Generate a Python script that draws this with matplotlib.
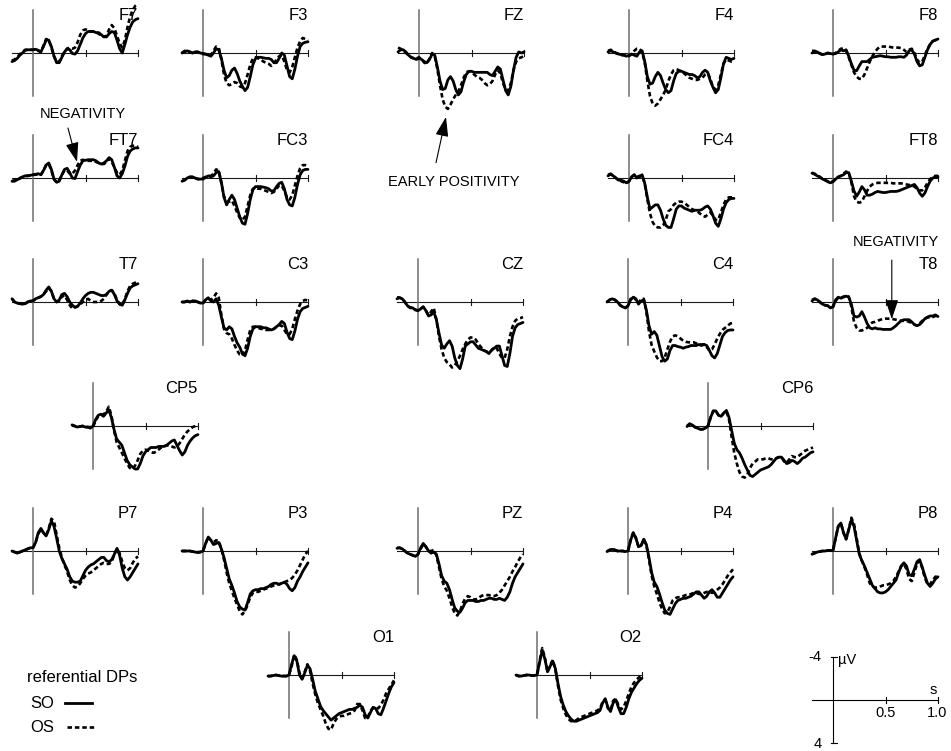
import numpy as np
import matplotlib
matplotlib.use("Agg")
import matplotlib.pyplot as plt
from matplotlib.lines import Line2D

plt.rcParams['font.family'] = ['Liberation Sans', 'DejaVu Sans']

# time axis (s), 25 ms steps from -0.2 to 1.0
t = np.linspace(-0.2, 1.0, 49)

# grand-average potentials in microvolts (negative plotted upwards)
F7_so = [0.8, 0.7, 0.5, 0.2, 0.0, -0.25, -0.3, -0.3,
         -0.3, -0.35, -0.25, -0.1, -0.6, -1.2, -1.2, -0.6,
         0.3, 0.9, 0.9, 0.4, -0.1, -0.4, -0.3, 0.05,
         0.1, -0.2, -0.8, -1.4, -1.8, -2.0, -2.0, -2.0,
         -1.9, -1.9, -1.7, -1.5, -1.5, -1.8, -2.0, -1.9,
         -1.2, -0.4, 0.0, -0.8, -1.7, -2.4, -2.9, -3.1, -3.2]
F7_os = [0.7, 0.6, 0.4, 0.1, -0.1, -0.3, -0.3, -0.3,
         -0.3, -0.3, -0.2, -0.1, -0.7, -1.3, -1.2, -0.5,
         0.3, 0.8, 0.8, 0.3, -0.1, -0.4, -0.5, -0.4,
         -0.5, -1.0, -1.7, -2.1, -2.2, -2.1, -2.0, -2.0,
         -1.9, -1.8, -1.6, -1.5, -1.6, -2.2, -2.6, -2.3,
         -1.6, -0.9, -0.5, -1.2, -2.4, -3.4, -4.0, -4.4, -4.6]

F3_so = [0.0, -0.1, -0.2, -0.1, 0.0, -0.1, -0.1, 0.0,
         0.05, 0.1, 0.2, 0.3, 0.0, -0.4, -0.3, 0.5,
         1.6, 2.3, 2.1, 1.6, 1.4, 1.9, 2.6, 3.1,
         3.5, 3.2, 2.2, 1.1, 0.5, 0.4, 0.4, 0.45,
         0.5, 0.5, 0.6, 0.9, 0.9, 0.5, 0.0, 0.2,
         1.2, 2.2, 2.4, 1.5, 0.3, -0.6, -0.9, -1.0, -1.05]
F3_os = [0.0, -0.2, -0.2, -0.1, 0.0, -0.1, -0.1, 0.0,
         0.1, 0.1, 0.2, 0.2, -0.2, -0.6, -0.5, 0.6,
         2.0, 2.8, 3.0, 2.9, 2.7, 2.8, 3.1, 3.2,
         2.8, 2.0, 1.1, 0.5, 0.4, 0.5, 0.6, 0.8,
         0.9, 1.0, 1.2, 1.0, 0.6, 0.3, 0.2, 0.8,
         1.6, 1.8, 1.3, 0.4, -0.5, -1.1, -1.4, -1.3, -1.2]

FZ_so = [-0.1, -0.3, -0.3, -0.1, 0.2, 0.4, 0.5, 0.6,
         0.5, 0.6, 0.8, 0.9, 0.6, 0.1, 0.2, 1.3,
         2.6, 3.4, 3.3, 2.5, 2.2, 2.6, 3.4, 3.9,
         3.6, 2.7, 2.0, 1.7, 1.7, 1.8, 1.8, 1.8,
         1.8, 1.8, 1.8, 2.0, 2.1, 1.7, 1.3, 1.5,
         2.5, 3.5, 3.9, 3.1, 1.6, 0.4, -0.1, 0.0, -0.1]
FZ_os = [-0.5, -0.4, -0.2, 0.0, 0.2, 0.4, 0.5, 0.5,
         0.4, 0.6, 0.9, 1.0, 0.5, 0.0, 0.3, 1.5,
         3.0, 4.3, 5.0, 5.2, 4.8, 4.3, 3.9, 3.6,
         3.0, 2.3, 1.8, 1.7, 1.8, 2.0, 2.2, 2.3,
         2.5, 2.8, 3.0, 2.9, 2.6, 2.0, 1.6, 1.9,
         2.8, 3.4, 3.5, 2.8, 1.6, 0.8, 0.5, 0.4, 0.3]

F4_so = [-0.1, -0.2, -0.1, 0.0, 0.1, 0.15, 0.2, 0.3,
         0.2, 0.1, 0.2, 0.3, -0.1, -0.2, 0.8, 2.2,
         2.9, 2.8, 2.2, 1.8, 2.1, 2.8, 3.4, 3.7,
         3.5, 2.6, 1.9, 1.7, 1.7, 1.8, 1.9, 2.0,
         2.0, 2.1, 2.3, 2.2, 1.8, 1.6, 1.8, 2.6,
         3.2, 3.7, 3.4, 2.3, 1.0, 0.4, 0.5, 0.6, 0.5]
F4_os = [-0.2, -0.3, -0.2, 0.0, 0.1, 0.2, 0.2, 0.3,
         0.3, 0.1, -0.2, -0.4, -0.4, -0.1, 0.9, 2.6,
         4.0, 4.7, 4.9, 4.7, 4.3, 3.9, 3.4, 2.6,
         2.0, 1.6, 1.5, 1.6, 1.7, 1.9, 2.1, 2.3,
         2.4, 2.5, 2.5, 2.4, 2.3, 2.0, 1.9, 2.4,
         3.2, 3.4, 3.0, 2.0, 1.0, 0.6, 0.7, 0.8, 0.8]

F8_so = [0.0, -0.1, -0.1, 0.05, 0.15, 0.1, 0.0, 0.05,
         0.1, 0.05, -0.1, -0.3, -0.2, -0.3, 0.3, 1.0,
         1.6, 1.65, 1.2, 0.8, 0.8, 0.8, 0.6, 0.4,
         0.35, 0.3, 0.25, 0.3, 0.35, 0.35, 0.4, 0.4,
         0.4, 0.35, 0.35, 0.4, 0.2, -0.2, -0.3, 0.1,
         0.8, 1.2, 1.1, 0.4, -0.3, -0.8, -1.1, -1.2, -1.3]
F8_os = [-0.2, -0.2, -0.1, 0.05, 0.15, 0.1, 0.0, 0.1,
         0.1, 0.0, -0.2, -0.4, -0.4, -0.2, 0.4, 1.1,
         1.8, 2.2, 2.4, 2.4, 2.0, 1.4, 0.8, 0.3,
         -0.1, -0.4, -0.6, -0.6, -0.6, -0.6, -0.55, -0.5,
         -0.5, -0.5, -0.45, -0.3, -0.1, -0.3, -0.4, 0.0,
         0.6, 0.9, 0.8, 0.2, -0.4, -0.8, -1.1, -1.2, -1.3]

FT7_so = [0.3, 0.3, 0.15, 0.05, -0.1, -0.2, -0.2, -0.25,
          -0.3, -0.35, -0.4, -0.3, -0.7, -1.2, -1.4, -0.8,
          0.1, 0.4, 0.3, -0.3, -0.8, -0.9, -0.5, 0.0,
          0.05, -0.6, -1.2, -1.6, -1.65, -1.7, -1.7, -1.7,
          -1.6, -1.4, -1.3, -1.4, -1.6, -1.9, -1.7, -1.0,
          -0.2, 0.0, -0.4, -1.1, -2.0, -2.5, -2.7, -2.8, -2.8]
FT7_os = [0.3, 0.2, 0.1, 0.0, -0.1, -0.2, -0.2, -0.25,
          -0.3, -0.3, -0.35, -0.3, -0.7, -1.2, -1.3, -0.7,
          0.1, 0.4, 0.2, -0.3, -0.7, -0.7, -0.4, -0.4,
          -0.7, -1.2, -1.6, -1.7, -1.6, -1.6, -1.6, -1.6,
          -1.5, -1.4, -1.3, -1.3, -1.5, -1.8, -1.5, -1.0,
          -0.5, -0.3, -0.7, -1.6, -2.5, -2.9, -3.0, -3.0, -2.9]

FC3_so = [0.3, 0.2, 0.0, -0.1, -0.1, 0.0, 0.1, 0.1,
          0.1, -0.05, -0.2, -0.1, -0.2, -0.5, -0.6, 0.4,
          1.8, 2.5, 2.0, 1.6, 2.0, 2.8, 3.6, 4.2,
          4.3, 3.3, 2.0, 1.1, 0.8, 0.8, 0.8, 0.85,
          0.9, 1.0, 1.2, 1.2, 0.8, 0.5, 0.4, 1.0,
          2.0, 2.5, 2.6, 1.8, 0.6, -0.3, -0.7, -0.8, -0.8]
FC3_os = [0.3, 0.2, 0.0, -0.1, -0.1, 0.0, 0.1, 0.1,
          0.0, -0.1, -0.2, -0.2, -0.4, -0.8, -0.7, 0.5,
          1.7, 2.2, 2.2, 2.1, 2.6, 3.2, 3.7, 3.9,
          3.6, 2.6, 1.6, 1.0, 0.9, 1.0, 1.0, 1.1,
          1.2, 1.3, 1.4, 1.3, 1.0, 0.7, 0.7, 1.2,
          1.8, 2.0, 1.6, 0.7, -0.2, -0.9, -1.2, -1.2, -1.1]

FC4_so = [-0.2, -0.35, -0.2, 0.0, 0.2, 0.2, 0.3, 0.45,
          0.3, -0.1, -0.3, 0.0, -0.1, -0.3, 0.5, 1.8,
          2.9, 2.7, 2.5, 2.5, 3.0, 3.8, 4.4, 4.6,
          4.6, 3.8, 2.9, 2.6, 2.6, 2.8, 2.9, 3.0,
          3.1, 3.0, 3.0, 3.0, 2.9, 2.7, 2.6, 2.9,
          3.5, 4.2, 4.5, 3.8, 2.9, 2.3, 2.0, 1.9, 1.9]
FC4_os = [-0.3, -0.4, -0.2, 0.0, 0.2, 0.3, 0.4, 0.5,
          0.3, -0.1, -0.3, -0.1, -0.2, -0.2, 0.5, 2.0,
          3.3, 4.1, 4.5, 4.6, 4.6, 4.4, 3.9, 3.1,
          2.9, 2.5, 2.3, 2.2, 2.2, 2.3, 2.5, 2.7,
          2.9, 3.0, 3.1, 3.3, 3.5, 3.6, 3.4, 3.2,
          3.5, 3.9, 3.9, 3.2, 2.5, 2.0, 1.8, 1.8, 1.8]

FT8_so = [-0.45, -0.35, -0.2, -0.1, 0.1, 0.2, 0.35, 0.45,
          0.35, 0.1, -0.1, -0.2, -0.3, -0.5, -0.5, 0.3,
          1.2, 1.7, 1.3, 0.8, 1.1, 1.6, 1.6, 1.5,
          1.35, 1.25, 1.3, 1.35, 1.35, 1.3, 1.25, 1.25,
          1.25, 1.2, 1.1, 1.0, 0.9, 0.8, 0.7, 0.6,
          0.9, 1.4, 1.7, 1.4, 0.8, 0.3, 0.0, -0.1, -0.1]
FT8_os = [-0.5, -0.4, -0.2, -0.1, 0.1, 0.2, 0.3, 0.4,
          0.3, 0.1, -0.1, -0.2, -0.4, -0.6, -0.5, 0.4,
          1.7, 2.2, 2.3, 2.2, 1.7, 1.2, 0.8, 0.6,
          0.5, 0.45, 0.45, 0.45, 0.45, 0.45, 0.45, 0.5,
          0.5, 0.5, 0.5, 0.55, 0.6, 0.65, 0.7, 0.8,
          1.0, 1.15, 1.15, 0.9, 0.45, 0.1, -0.1, -0.2, -0.2]

T7_so = [-0.3, 0.0, 0.1, 0.15, 0.2, 0.15, 0.0, -0.1,
         -0.1, -0.3, -0.4, -0.5, -0.7, -1.1, -1.4, -1.0,
         -0.3, 0.0, -0.2, -0.7, -0.8, -0.5, 0.0, 0.3,
         0.5, 0.4, 0.1, -0.3, -0.6, -0.8, -0.9, -0.9,
         -0.8, -0.7, -0.6, -0.6, -0.7, -1.0, -1.1, -0.7,
         -0.1, 0.2, 0.3, -0.2, -0.8, -1.3, -1.5, -1.6, -1.7]
T7_os = [-0.3, 0.0, 0.1, 0.15, 0.2, 0.15, 0.0, -0.1,
         -0.1, -0.3, -0.4, -0.5, -0.7, -1.0, -1.3, -1.0,
         -0.3, 0.0, -0.1, -0.5, -0.6, -0.2, 0.3, 0.6,
         0.5, 0.4, 0.2, 0.0, -0.2, -0.3, -0.1, 0.0,
         0.0, 0.0, -0.1, -0.3, -0.7, -1.0, -1.1, -0.8,
         -0.2, 0.2, 0.3, -0.3, -1.0, -1.5, -1.7, -1.8, -1.9]

C3_so = [0.0, 0.0, -0.1, 0.0, -0.1, -0.1, 0.0, 0.1,
         0.1, -0.2, -0.4, -0.1, 0.0, -0.3, 0.3, 1.4,
         2.4, 2.6, 2.3, 2.5, 3.2, 3.8, 4.2, 4.8,
         5.0, 4.3, 3.2, 2.5, 2.3, 2.3, 2.3, 2.4,
         2.4, 2.5, 2.6, 2.5, 2.3, 2.1, 1.8, 2.0,
         2.8, 3.4, 3.5, 2.7, 1.6, 0.9, 0.6, 0.5, 0.4]
C3_os = [0.0, 0.0, -0.1, 0.0, -0.1, -0.1, 0.0, 0.1,
         0.1, -0.2, -0.3, -0.2, -0.4, -0.8, -0.4, 1.2,
         2.5, 2.9, 3.0, 3.4, 4.0, 4.5, 4.9, 5.0,
         4.5, 3.5, 2.6, 2.3, 2.3, 2.4, 2.5, 2.5,
         2.6, 2.6, 2.6, 2.5, 2.3, 2.2, 2.2, 2.6,
         3.0, 3.0, 2.5, 1.6, 0.8, 0.2, -0.1, -0.2, -0.1]

CZ_so = [-0.3, -0.4, -0.3, 0.0, 0.35, 0.55, 0.55, 0.75,
         0.8, 0.65, 0.45, 0.8, 1.3, 1.2, 0.9, 1.65,
         2.9, 4.0, 4.3, 3.9, 3.6, 4.1, 5.2, 5.9,
         6.2, 5.3, 4.1, 3.9, 3.7, 3.7, 4.0, 4.3,
         4.4, 4.5, 4.6, 4.8, 4.5, 4.3, 4.1, 4.1,
         5.0, 5.9, 6.0, 4.8, 3.2, 2.4, 2.1, 2.0, 1.9]
CZ_os = [-0.45, -0.4, -0.3, 0.0, 0.35, 0.5, 0.55, 0.7,
         0.8, 0.6, 0.45, 0.8, 1.2, 0.9, 0.55, 1.65,
         3.2, 4.4, 5.2, 5.6, 5.8, 6.1, 5.9, 5.5,
         5.0, 4.4, 3.9, 3.5, 3.3, 3.3, 3.5, 3.9,
         4.2, 4.5, 4.6, 4.7, 4.5, 4.2, 4.3, 4.8,
         5.2, 5.2, 4.4, 3.2, 2.3, 1.75, 1.55, 1.5, 1.4]

C4_so = [0.0, -0.2, -0.3, -0.2, 0.0, 0.3, 0.45, 0.55,
         0.35, -0.2, -0.45, -0.3, 0.2, -0.1, -0.2, 0.75,
         2.2, 3.0, 2.75, 3.1, 4.1, 5.1, 5.5, 5.3,
         4.5, 4.05, 4.05, 4.15, 4.2, 4.3, 4.2, 4.15,
         4.05, 4.05, 4.05, 3.95, 4.05, 3.95, 4.05, 4.5,
         5.0, 5.2, 4.8, 4.0, 3.2, 2.85, 2.65, 2.6, 2.6]
C4_os = [0.0, -0.2, -0.3, -0.2, 0.0, 0.3, 0.45, 0.55,
         0.35, -0.3, -0.5, -0.2, 0.1, -0.3, -0.3, 0.9,
         2.75, 4.0, 4.6, 5.15, 5.5, 5.5, 5.15, 4.4,
         3.7, 3.2, 3.1, 3.2, 3.4, 3.6, 3.7, 3.75,
         3.75, 3.75, 3.85, 3.95, 3.95, 3.95, 4.2, 4.5,
         4.4, 3.95, 3.4, 2.95, 2.6, 2.4, 2.2, 2.0, 1.95]

T8_so = [-0.1, -0.3, -0.2, 0.0, 0.2, 0.3, 0.35, 0.55,
         0.45, -0.2, -0.45, -0.35, -0.45, -0.55, -0.45, 0.2,
         1.3, 1.4, 1.3, 0.9, 1.4, 2.0, 2.4, 2.5,
         2.4, 2.5, 2.5, 2.55, 2.55, 2.55, 2.55, 2.4,
         2.2, 1.95, 1.75, 1.65, 1.65, 1.65, 1.85, 2.1,
         2.2, 2.1, 1.85, 1.55, 1.4, 1.3, 1.3, 1.2, 1.35]
T8_os = [-0.2, -0.3, -0.2, 0.0, 0.2, 0.3, 0.35, 0.5,
         0.45, -0.1, -0.4, -0.4, -0.5, -0.6, -0.5, 0.45,
         1.85, 2.4, 2.65, 2.65, 2.55, 2.4, 2.1, 1.9,
         1.85, 1.75, 1.65, 1.6, 1.55, 1.55, 1.55, 1.6,
         1.65, 1.7, 1.75, 1.75, 1.75, 1.85, 1.95, 2.1,
         2.2, 2.0, 1.75, 1.55, 1.45, 1.4, 1.4, 1.3, 1.3]

CP5_so = [-0.1, 0.0, 0.1, 0.05, 0.0, 0.1, 0.1, 0.2,
          0.0, -0.6, -1.0, -1.1, -0.9, -1.2, -1.5, -0.8,
          0.3, 1.2, 1.5, 1.8, 2.5, 3.2, 3.6, 3.8,
          4.0, 4.0, 3.5, 2.8, 2.4, 2.2, 2.0, 2.0,
          2.0, 1.9, 1.9, 1.9, 1.8, 1.6, 1.4, 1.3,
          1.8, 2.3, 2.7, 2.4, 1.8, 1.4, 1.1, 0.9, 0.8]
CP5_os = [-0.1, 0.0, 0.1, 0.05, 0.0, 0.1, 0.1, 0.1,
          0.1, -0.5, -0.9, -1.0, -1.1, -1.3, -1.8, -1.0,
          0.4, 1.5, 2.0, 2.5, 3.0, 3.5, 3.9, 4.0,
          3.7, 3.2, 2.6, 2.3, 2.2, 2.3, 2.4, 2.5,
          2.4, 2.2, 2.0, 1.9, 1.8, 1.8, 1.9, 2.0,
          1.9, 1.6, 1.2, 0.8, 0.5, 0.3, 0.1, 0.0, -0.1]

CP6_so = [0.05, -0.2, -0.1, 0.1, 0.2, 0.3, 0.3, 0.2,
          0.0, -0.8, -1.4, -1.4, -1.0, -0.9, -1.2, -1.45,
          -0.8, 0.4, 1.6, 2.2, 2.5, 3.0, 3.6, 4.1,
          4.6, 4.7, 4.5, 4.3, 4.1, 4.0, 3.9, 3.8,
          3.6, 3.3, 3.0, 2.9, 2.9, 3.2, 3.5, 3.4,
          3.2, 3.3, 3.5, 3.3, 3.0, 2.9, 2.7, 2.5, 2.4]
CP6_os = [0.0, -0.2, -0.1, 0.1, 0.2, 0.3, 0.3, 0.2,
          0.0, -0.8, -1.4, -1.4, -1.0, -0.9, -1.2, -1.4,
          -0.6, 1.0, 2.5, 3.5, 4.3, 4.7, 4.8, 4.5,
          3.9, 3.5, 3.3, 3.1, 3.1, 3.1, 3.0, 3.0,
          3.1, 3.1, 3.0, 2.9, 2.9, 3.3, 3.4, 3.1,
          2.8, 2.9, 2.9, 2.7, 2.5, 2.3, 2.2, 2.1, 2.0]

P7_so = [0.0, 0.1, 0.2, 0.1, 0.0, -0.1, -0.2, -0.3,
         -0.3, -0.8, -1.7, -2.1, -1.7, -1.4, -2.0, -2.8,
         -2.3, -1.2, 0.0, 0.7, 1.2, 1.7, 2.4, 2.8,
         2.9, 2.9, 2.8, 2.3, 1.8, 1.5, 1.3, 1.2,
         1.0, 0.8, 0.6, 0.6, 0.9, 1.0, 0.8, 0.3,
         -0.25, 0.4, 1.6, 2.4, 2.7, 2.4, 2.0, 1.6, 1.2]
P7_os = [0.0, 0.1, 0.2, 0.1, 0.0, -0.1, -0.2, -0.3,
         -0.3, -0.8, -1.6, -2.0, -1.7, -1.4, -2.1, -3.0,
         -2.8, -1.5, -0.3, 0.6, 1.3, 1.9, 2.7, 3.2,
         3.4, 3.3, 3.0, 2.6, 2.3, 2.1, 2.0, 1.8,
         1.6, 1.4, 1.2, 1.1, 1.2, 1.2, 1.0, 0.3,
         -0.2, 0.2, 1.0, 1.6, 1.8, 1.6, 1.1, 0.7, 0.5]

P3_so = [0.0, 0.0, 0.0, 0.0, 0.05, 0.1, 0.15, 0.1,
         0.0, -0.7, -1.3, -1.0, -0.6, -0.7, -0.8, -0.2,
         0.6, 1.6, 2.6, 3.2, 3.9, 4.7, 5.2, 5.4,
         5.5, 4.8, 4.0, 3.7, 3.6, 3.6, 3.5, 3.5,
         3.4, 3.3, 3.1, 3.0, 3.0, 3.1, 3.0, 2.9,
         3.1, 3.5, 3.7, 3.4, 2.8, 2.4, 1.9, 1.5, 1.1]
P3_os = [0.0, 0.0, 0.0, 0.0, 0.05, 0.1, 0.1, 0.1,
         0.0, -0.7, -1.3, -1.0, -0.8, -1.0, -0.9, -0.2,
         0.8, 2.0, 3.0, 3.7, 4.4, 5.0, 5.6, 5.9,
         5.6, 5.0, 4.3, 3.9, 3.8, 3.8, 3.7, 3.6,
         3.5, 3.4, 3.3, 3.2, 3.1, 3.1, 3.0, 2.9,
         2.8, 2.7, 2.5, 2.2, 1.8, 1.3, 0.8, 0.3, 0.0]

PZ_so = [-0.25, -0.3, -0.2, 0.0, 0.2, 0.3, 0.4, 0.5,
         0.3, -0.3, -0.7, -0.4, 0.0, 0.2, 0.1, 0.3,
         1.2, 2.3, 2.8, 3.0, 3.6, 4.5, 5.3, 5.6,
         5.7, 5.3, 4.8, 4.6, 4.6, 4.6, 4.7, 4.7,
         4.6, 4.6, 4.5, 4.4, 4.4, 4.5, 4.5, 4.4,
         4.5, 4.6, 4.3, 3.8, 3.0, 2.4, 2.0, 1.6, 1.2]
PZ_os = [-0.3, -0.3, -0.2, 0.0, 0.2, 0.3, 0.4, 0.5,
         0.3, -0.2, -0.6, -0.4, 0.0, 0.0, -0.1, 0.4,
         1.5, 2.6, 3.3, 3.7, 4.4, 5.2, 5.8, 6.0,
         5.6, 4.9, 4.4, 4.2, 4.3, 4.5, 4.5, 4.4,
         4.2, 4.1, 4.1, 4.1, 4.2, 4.2, 4.1, 3.9,
         3.6, 3.2, 2.8, 2.4, 1.9, 1.5, 1.0, 0.6, 0.3]

P4_so = [0.05, -0.1, -0.15, -0.1, 0.0, 0.0, 0.0, 0.05,
         0.0, -1.0, -1.7, -1.2, -0.4, -0.5, -1.1, -0.6,
         0.6, 2.0, 2.9, 3.3, 4.0, 4.8, 5.5, 5.8,
         5.9, 5.4, 4.9, 4.6, 4.5, 4.4, 4.4, 4.3,
         4.2, 4.0, 3.8, 3.8, 4.1, 4.4, 4.2, 3.8,
         3.6, 3.9, 4.3, 4.3, 3.9, 3.5, 3.1, 2.7, 2.4]
P4_os = [0.05, -0.1, -0.15, -0.1, 0.0, 0.0, 0.0, 0.05,
         0.0, -1.0, -1.7, -1.2, -0.4, -0.5, -1.1, -0.5,
         0.8, 2.3, 3.3, 4.0, 4.8, 5.4, 5.8, 5.7,
         5.2, 4.6, 4.4, 4.3, 4.3, 4.2, 4.1, 4.1,
         4.0, 3.9, 3.9, 4.0, 4.0, 3.9, 3.8, 3.8,
         3.9, 3.8, 3.6, 3.4, 3.1, 2.7, 2.3, 2.0, 1.7]

P8_so = [0.3, 0.2, 0.1, 0.05, 0.0, 0.0, -0.05, -0.05,
         -0.05, -1.2, -2.3, -2.6, -1.7, -1.1, -2.0, -2.9,
         -2.3, -1.0, 0.3, 0.9, 1.4, 2.0, 2.6, 3.2,
         3.5, 3.8, 3.9, 3.9, 3.8, 3.6, 3.3, 3.0,
         2.7, 2.0, 1.4, 1.1, 1.4, 2.2, 2.3, 1.7,
         1.0, 0.8, 1.5, 2.3, 3.0, 3.3, 3.0, 2.6, 2.4]
P8_os = [0.3, 0.2, 0.1, 0.05, 0.0, 0.0, -0.05, -0.05,
         -0.05, -1.2, -2.3, -2.6, -1.7, -1.1, -2.0, -3.1,
         -2.5, -1.2, 0.2, 0.9, 1.5, 2.2, 3.0, 3.3,
         3.4, 3.4, 3.3, 3.2, 3.2, 3.1, 3.0, 2.8,
         2.4, 1.9, 1.4, 1.2, 1.7, 2.6, 2.8, 2.0,
         1.2, 0.9, 1.6, 2.5, 3.1, 3.1, 2.7, 2.4, 2.3]

O1_so = [0.1, 0.1, 0.05, 0.0, 0.05, 0.1, 0.1, 0.1,
         0.0, -1.0, -1.8, -1.3, 0.0, 0.4, -0.2, -0.9,
         -0.6, 0.4, 1.5, 2.2, 2.9, 3.3, 3.6, 3.9,
         4.2, 4.0, 3.8, 3.6, 3.5, 3.4, 3.3, 3.2,
         3.2, 3.1, 3.0, 2.8, 3.0, 3.7, 4.0, 3.5,
         3.0, 3.1, 3.6, 3.7, 3.1, 2.4, 1.7, 1.1, 0.7]
O1_os = [0.1, 0.1, 0.05, 0.0, 0.05, 0.1, 0.1, 0.1,
         0.0, -0.8, -1.9, -1.4, -0.2, 0.3, -0.3, -1.0,
         -0.4, 0.8, 1.8, 2.6, 3.2, 3.8, 4.5, 5.0,
         5.1, 4.5, 4.1, 3.9, 3.8, 3.8, 3.7, 3.6,
         3.5, 3.3, 2.7, 2.7, 3.3, 4.0, 4.0, 3.3,
         3.1, 3.0, 3.1, 2.8, 2.3, 1.7, 1.3, 0.9, 0.5]

O2_so = [0.0, 0.1, 0.1, 0.05, 0.0, 0.0, 0.05, 0.05,
         0.0, -1.2, -2.3, -1.5, -0.3, -0.8, -1.3, -0.6,
         0.8, 2.0, 2.8, 3.4, 3.8, 4.1, 4.3, 4.3,
         4.2, 4.1, 4.0, 3.9, 3.8, 3.7, 3.6, 3.5,
         3.3, 2.6, 2.2, 3.0, 3.4, 2.6, 2.3, 3.0,
         3.6, 3.6, 3.0, 2.2, 1.6, 1.2, 0.8, 0.5, 0.3]
O2_os = [0.0, 0.1, 0.1, 0.05, 0.0, 0.0, 0.05, 0.05,
         0.0, -1.3, -2.5, -1.6, -0.3, -0.9, -1.4, -0.5,
         1.0, 2.3, 3.1, 3.7, 4.1, 4.3, 4.3, 4.2,
         4.0, 3.9, 3.8, 3.7, 3.6, 3.5, 3.4, 3.3,
         3.1, 2.5, 2.3, 3.1, 3.3, 2.4, 2.2, 2.8,
         3.2, 3.0, 2.4, 1.7, 1.1, 0.7, 0.4, 0.2, 0.1]

electrodes = ['F7', 'F3', 'FZ', 'F4', 'F8',
              'FT7', 'FC3', 'FC4', 'FT8',
              'T7', 'C3', 'CZ', 'C4', 'T8',
              'CP5', 'CP6',
              'P7', 'P3', 'PZ', 'P4', 'P8',
              'O1', 'O2']
so_waves = {'F7': F7_so, 'F3': F3_so, 'FZ': FZ_so, 'F4': F4_so, 'F8': F8_so,
            'FT7': FT7_so, 'FC3': FC3_so, 'FC4': FC4_so, 'FT8': FT8_so,
            'T7': T7_so, 'C3': C3_so, 'CZ': CZ_so, 'C4': C4_so, 'T8': T8_so,
            'CP5': CP5_so, 'CP6': CP6_so,
            'P7': P7_so, 'P3': P3_so, 'PZ': PZ_so, 'P4': P4_so, 'P8': P8_so,
            'O1': O1_so, 'O2': O2_so}
os_waves = {'F7': F7_os, 'F3': F3_os, 'FZ': FZ_os, 'F4': F4_os, 'F8': F8_os,
            'FT7': FT7_os, 'FC3': FC3_os, 'FC4': FC4_os, 'FT8': FT8_os,
            'T7': T7_os, 'C3': C3_os, 'CZ': CZ_os, 'C4': C4_os, 'T8': T8_os,
            'CP5': CP5_os, 'CP6': CP6_os,
            'P7': P7_os, 'P3': P3_os, 'PZ': PZ_os, 'P4': P4_os, 'P8': P8_os,
            'O1': O1_os, 'O2': O2_os}

# scalp layout: pixel position of (t = 0, 0 uV) for each electrode
layout = {'F7': (33, 53), 'F3': (203, 53), 'FZ': (419, 53), 'F4': (629, 53), 'F8': (833, 53),
          'FT7': (33, 178), 'FC3': (203, 178), 'FC4': (629, 178), 'FT8': (833, 178),
          'T7': (33, 302), 'C3': (203, 302), 'CZ': (418, 302), 'C4': (628, 302), 'T8': (833, 302),
          'CP5': (93, 426), 'CP6': (708, 426),
          'P7': (33, 551), 'P3': (203, 551), 'PZ': (418, 551), 'P4': (628, 551), 'P8': (833, 551),
          'O1': (289, 675), 'O2': (537, 675)}

W, H = 951, 751
PX_S = 105.0      # pixels per second
PX_UV = 10.75     # pixels per microvolt
T0, T1 = -0.2, 1.0
V = 4.0

fig = plt.figure(figsize=(W / 100, H / 100), dpi=100)
fig.patch.set_facecolor('white')


def panel(x0, y0):
    left = x0 + T0 * PX_S
    width = (T1 - T0) * PX_S
    bottom = H - (y0 + V * PX_UV)
    height = 2 * V * PX_UV
    ax = fig.add_axes([left / W, bottom / H, width / W, height / H])
    ax.set_xlim(T0, T1)
    ax.set_ylim(V, -V)          # negative up
    ax.axis('off')
    return ax


DASH = (0, (1.7, 1.1))
axes = {}
for name in electrodes:
    ax = panel(*layout[name])
    axes[name] = ax
    ax.plot([T0, T1], [0, 0], color='#1a1a1a', lw=0.8, clip_on=False)
    ax.plot([0, 0], [-V, V], color='#6e6e6e', lw=1.1, clip_on=False)
    for tk in (0.5, 1.0):
        ax.plot([tk, tk], [-0.28, 0.28], color='#1a1a1a', lw=0.8, clip_on=False)
    ax.plot(t, os_waves[name], color='black', lw=1.9, linestyle=DASH, clip_on=False)
    ax.plot(t, so_waves[name], color='black', lw=2.0, clip_on=False,
            solid_joinstyle='round', solid_capstyle='round')
    ax.text(T1, -3.45, name, ha='right', va='center', fontsize=12)

# calibration axes
cal = panel(833, 700)
cal.plot([T0, T1], [0, 0], color='black', lw=0.8, clip_on=False)
cal.plot([0, 0], [-V, V], color='black', lw=0.8, clip_on=False)
for tk in (0.5, 1.0):
    cal.plot([tk, tk], [-0.3, 0.3], color='black', lw=0.8, clip_on=False)
for v in (-V, V):
    cal.plot([-0.02, 0.04], [v, v], color='black', lw=0.8, clip_on=False)
cal.text(-0.11, -4.0, '-4', ha='right', va='center', fontsize=10.5)
cal.text(-0.11, 4.1, '4', ha='right', va='center', fontsize=10.5)
cal.text(0.05, -3.7, 'µV', ha='left', va='center', fontsize=10.5)
cal.text(0.95, -0.95, 's', ha='center', va='center', fontsize=10.5)
cal.text(0.5, 1.2, '0.5', ha='center', va='center', fontsize=10.5)
cal.text(0.99, 1.2, '1.0', ha='center', va='center', fontsize=10.5)

# annotations
ARROW = dict(arrowstyle='-|>,head_length=0.6,head_width=0.2', color='black',
             lw=0.8, shrinkA=0, shrinkB=0, mutation_scale=20)
axes['FT7'].text(0.476, -5.95, 'NEGATIVITY', ha='center', va='center', fontsize=10.5)
axes['FT7'].annotate('', xy=(0.419, -1.5), xytext=(0.333, -4.65), arrowprops=ARROW,
                     annotation_clip=False)
axes['FZ'].text(0.333, 12.0, 'EARLY POSITIVITY', ha='center', va='center', fontsize=10.5)
axes['FZ'].annotate('', xy=(0.257, 5.95), xytext=(0.162, 10.2), arrowprops=ARROW,
                    annotation_clip=False)
axes['T8'].text(0.6, -5.6, 'NEGATIVITY', ha='center', va='center', fontsize=10.5)
axes['T8'].annotate('', xy=(0.56, 1.6), xytext=(0.56, -3.9), arrowprops=ARROW,
                    annotation_clip=False)

# legend
def fx(px):
    return px / W


def fy(py):
    return 1 - py / H


fig.text(fx(27), fy(678), 'referential DPs', ha='left', va='center', fontsize=12)
fig.text(fx(30), fy(703), 'SO', ha='left', va='center', fontsize=12)
fig.text(fx(30), fy(728), 'OS', ha='left', va='center', fontsize=12)
fig.add_artist(Line2D([fx(65), fx(92)], [fy(703), fy(703)], color='black', lw=2.0))
fig.add_artist(Line2D([fx(67), fx(94)], [fy(727), fy(727)], color='black', lw=1.9,
                      linestyle=DASH))

fig.savefig('out.png', dpi=100, facecolor='white')
